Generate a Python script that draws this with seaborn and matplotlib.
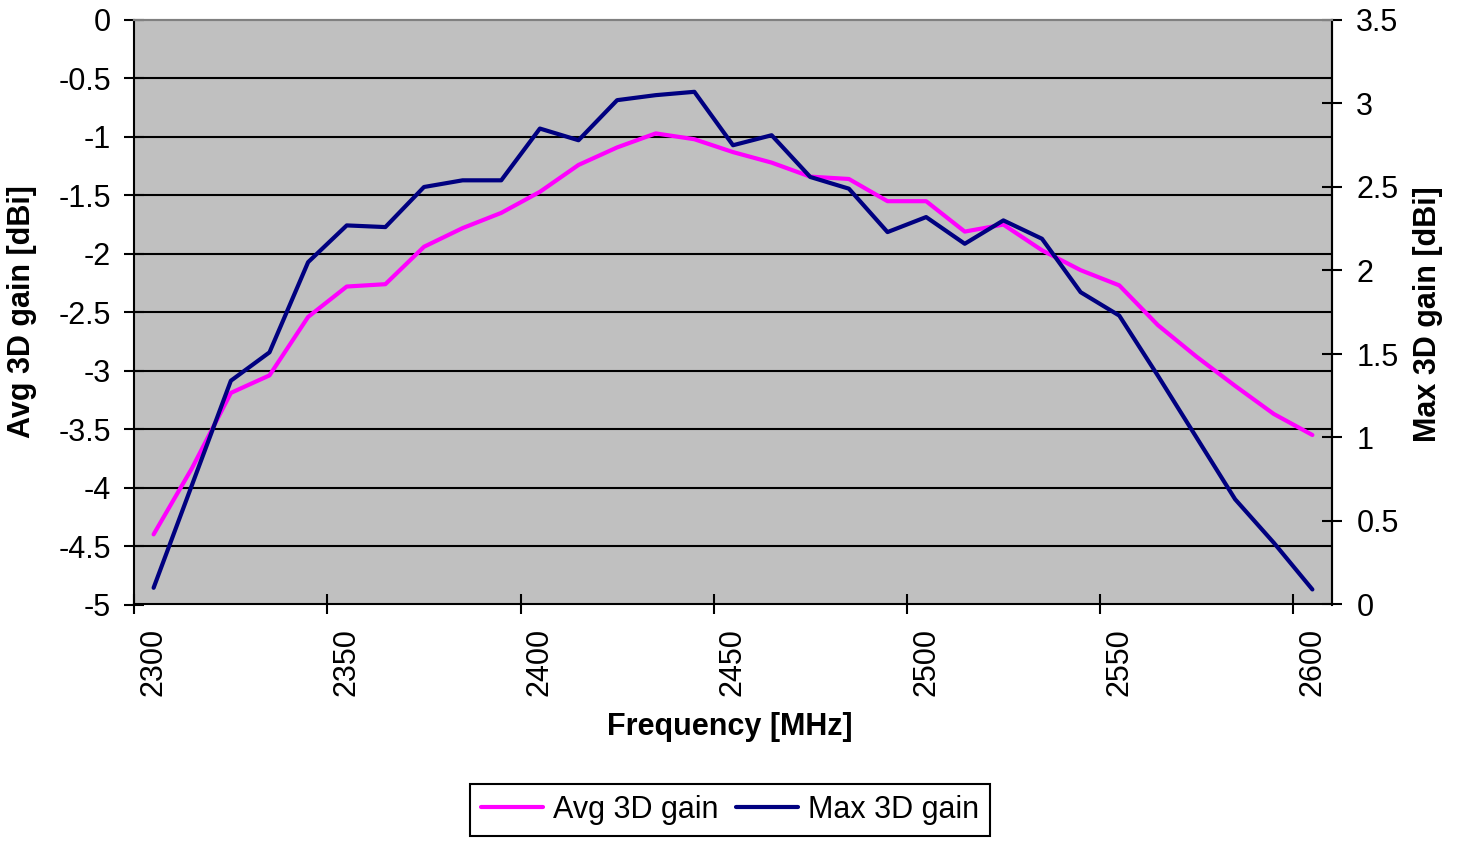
import matplotlib
matplotlib.use("Agg")
import matplotlib.pyplot as plt
import seaborn as sns
from matplotlib.ticker import FixedLocator, FuncFormatter
from matplotlib.lines import Line2D

# category axis values (MHz)
freq = [2300, 2310, 2320, 2330, 2340, 2350, 2360, 2370, 2380, 2390,
        2400, 2410, 2420, 2430, 2440, 2450, 2460, 2470, 2480, 2490,
        2500, 2510, 2520, 2530, 2540, 2550, 2560, 2570, 2580, 2590, 2600]
avg_gain = [-4.40, -3.83, -3.19, -3.04, -2.54, -2.28, -2.26, -1.94, -1.78, -1.65,
            -1.47, -1.24, -1.09, -0.97, -1.02, -1.13, -1.22, -1.34, -1.36, -1.55,
            -1.55, -1.81, -1.75, -1.97, -2.14, -2.27, -2.61, -2.88, -3.13, -3.37, -3.55]
max_gain = [0.10, 0.72, 1.34, 1.51, 2.05, 2.27, 2.26, 2.50, 2.54, 2.54,
            2.85, 2.78, 3.02, 3.05, 3.07, 2.75, 2.81, 2.56, 2.49, 2.23,
            2.32, 2.16, 2.30, 2.19, 1.87, 1.73, 1.37, 1.00, 0.63, 0.37, 0.09]
freq_labels = [2300, 2350, 2400, 2450, 2500, 2550, 2600]
left_ticks = [-5, -4.5, -4, -3.5, -3, -2.5, -2, -1.5, -1, -0.5, 0]
right_ticks = [0, 0.5, 1, 1.5, 2, 2.5, 3, 3.5]

AVG_COLOR = "#FF00FF"
MAX_COLOR = "#000080"
FS = 22

sns.set_theme(style="ticks")
plt.rcParams["font.family"] = ["Liberation Sans", "DejaVu Sans"]
plt.rcParams["axes.unicode_minus"] = False
for key in ("text.color", "axes.labelcolor", "xtick.color", "ytick.color",
            "xtick.labelcolor", "ytick.labelcolor"):
    plt.rcParams[key] = "black"

fig = plt.figure(figsize=(14.61, 8.46), dpi=100)
ax = fig.add_axes([134.3 / 1461, 1 - 604.5 / 846, 1197.4 / 1461, 584.5 / 846])
ax.set_facecolor("#C0C0C0")
ax2 = ax.twinx()

sns.lineplot(x=freq, y=avg_gain, ax=ax, color=AVG_COLOR, linewidth=3.0, legend=False)
sns.lineplot(x=freq, y=max_gain, ax=ax2, color=MAX_COLOR, linewidth=3.0, legend=False)

# category axis: labels at category centers, tick marks at category boundaries
ax.set_xlim(2295, 2605)
ax.set_xticks(freq_labels)
ax.set_xticklabels([str(f) for f in freq_labels], rotation=90, fontsize=FS)
ax.xaxis.set_minor_locator(FixedLocator([f - 5 for f in freq_labels]))
ax.tick_params(axis="x", which="major", length=0, pad=17, labelcolor="black")
ax.tick_params(axis="x", which="minor", direction="inout", length=14.4, width=1.5,
               color="black", bottom=True)

fmt = FuncFormatter(lambda v, p: f"{v:g}")
ax.set_ylim(-5, 0)
ax.set_yticks(left_ticks)
ax.yaxis.set_major_formatter(fmt)
ax.tick_params(axis="y", direction="inout", length=14.4, width=1.5, color="black",
               labelcolor="black", labelsize=FS, pad=9.4, left=True)
ax2.set_ylim(0, 3.5)
ax2.set_yticks(right_ticks)
ax2.yaxis.set_major_formatter(fmt)
ax2.tick_params(axis="y", direction="inout", length=14.4, width=1.5, color="black",
                labelcolor="black", labelsize=FS, pad=10.5, right=True)

ax.yaxis.grid(True, color="black", linewidth=1.5)
ax.get_ygridlines()[-1].set_visible(False)
ax.get_ygridlines()[0].set_visible(False)

for a in (ax, ax2):
    for side in ("left", "right", "bottom"):
        a.spines[side].set_color("black")
        a.spines[side].set_linewidth(1.5)
    a.spines["top"].set_visible(True)
    a.spines["top"].set_color("#808080")
    a.spines["top"].set_linewidth(1.5)
ax2.spines["left"].set_visible(False)
ax2.spines["bottom"].set_visible(False)
ax.spines["right"].set_visible(True)

ax.set_xlabel("Frequency [MHz]", fontsize=FS, fontweight="bold", color="black")
ax.xaxis.label.set_va("center")
ax.xaxis.set_label_coords(0.4975, -0.2096)
ax.set_ylabel("Avg 3D gain [dBi]", fontsize=FS, fontweight="bold", color="black")
ax.yaxis.label.set_ha("center")
ax.yaxis.label.set_va("center")
ax.yaxis.set_label_coords(-0.0938, 0.501)
ax2.set_ylabel("Max 3D gain [dBi]", fontsize=FS, fontweight="bold", rotation=90, color="black")
ax2.yaxis.label.set_ha("center")
ax2.yaxis.label.set_va("center")
ax2.yaxis.set_label_coords(1.0804, 0.4975)

handles = [Line2D([], [], color=AVG_COLOR, linewidth=3.0),
           Line2D([], [], color=MAX_COLOR, linewidth=3.0)]
leg = fig.legend(handles, ["Avg 3D gain", "Max 3D gain"], loc="center",
                 bbox_to_anchor=(730 / 1461, 1 - 810 / 846), ncol=2, fontsize=FS,
                 frameon=True, fancybox=False, shadow=False, borderpad=0.35,
                 handlelength=2.05, handletextpad=0.33, columnspacing=0.55,
                 borderaxespad=0)
leg.get_frame().set_edgecolor("black")
leg.get_frame().set_linewidth(1.5)
leg.get_frame().set_alpha(None)
leg.get_frame().set_facecolor("white")
for t in leg.get_texts():
    t.set_color("black")

fig.savefig("out.png", dpi=100)
